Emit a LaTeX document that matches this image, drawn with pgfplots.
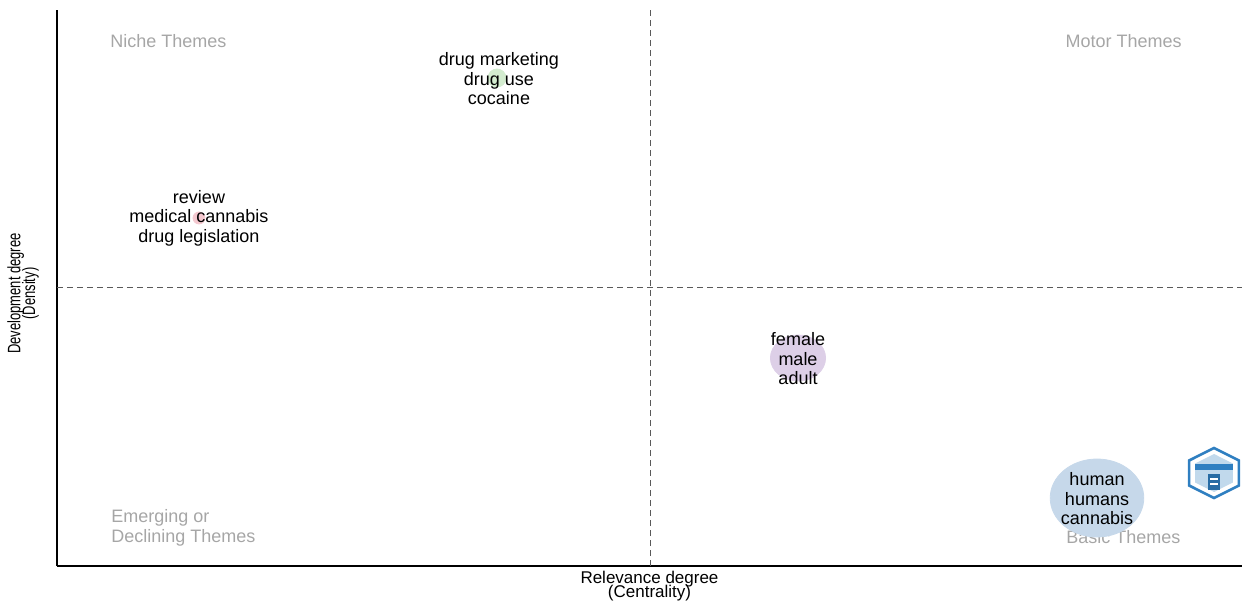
\documentclass[border=0pt]{standalone}
\usepackage{pgfplots}
\pgfplotsset{compat=1.18}
\usepackage{fontspec}
\setmainfont{Liberation Sans}
\usetikzlibrary{shapes.geometric}
\definecolor{cblue}{HTML}{C6D8EA}
\definecolor{cpurple}{HTML}{DDCFE7}
\definecolor{cgreen}{HTML}{D3ECCF}
\definecolor{cred}{HTML}{F4C8CF}
\definecolor{qgray}{HTML}{A6A6A6}
\definecolor{logoblue}{HTML}{2F7FC1}
\pgfplotsset{themetext/.style={nodes near coords={#1}, every node near coord/.append style={align=center, anchor=center, text=black, font=\fontsize{9}{9.75}\selectfont}}}
\begin{document}
\begin{tikzpicture}
\path[use as bounding box] (0,0) rectangle (621pt,300pt);
\begin{axis}[
  at={(28.5pt,17pt)}, anchor=south west,
  scale only axis, width=592.5pt, height=278pt,
  xmin=57, xmax=1242, ymin=34, ymax=590,
  axis lines=left, axis line style={-, black, line width=0.6pt},
  xtick=\empty, ytick=\empty,
  clip=false,
  xlabel={Relevance degree\\[-1.5pt](Centrality)},
  ylabel={\scalebox{0.72}[1]{\begin{tabular}{@{}c@{}}Development degree\\[-1.8pt](Density)\end{tabular}}},
  xlabel style={font=\fontsize{8.5}{8.5}\selectfont, align=center, at={(axis description cs:0.5,0)}, anchor=north, yshift=-2.3pt, inner sep=0pt},
  ylabel style={font=\fontsize{9}{9}\selectfont, at={(axis description cs:0,0.49)}, anchor=south, yshift=8pt, inner sep=0pt},
]
% dashed quadrant lines
\addplot[densely dashed, gray!70!black, line width=0.5pt] coordinates {(650,34) (650,590)};
\addplot[densely dashed, gray!70!black, line width=0.5pt] coordinates {(57,312) (1242,312)};
% bubbles
\addplot[only marks, mark=*, color=cblue, mark size=19.5pt, mark options={xscale=1.2, fill=cblue, draw=cblue}] coordinates {(1097,102)};
\addplot[only marks, mark=*, color=cpurple, mark size=11.5pt, mark options={xscale=1.2, fill=cpurple, draw=cpurple}] coordinates {(798,242)};
\addplot[only marks, mark=*, color=cgreen, mark size=4.5pt, mark options={fill=cgreen, draw=cgreen}] coordinates {(497,522)};
\addplot[only marks, mark=*, color=cred, mark size=3pt, mark options={fill=cred, draw=cred}] coordinates {(199,382)};
% theme labels
\addplot[draw=none, mark=none, themetext={drug marketing\\drug use\\cocaine}] coordinates {(499,521)};
\addplot[draw=none, mark=none, themetext={review\\medical cannabis\\drug legislation}] coordinates {(199,382)};
\addplot[draw=none, mark=none, themetext={female\\male\\adult}] coordinates {(798,241)};
\addplot[draw=none, mark=none, themetext={human\\humans\\cannabis}] coordinates {(1097,101)};
% quadrant labels
\node[anchor=west, inner sep=0pt, text=qgray, font=\fontsize{9}{9.75}\selectfont] at (axis cs:110,559) {Niche Themes};
\node[anchor=east, inner sep=0pt, text=qgray, font=\fontsize{9}{9.75}\selectfont] at (axis cs:1182,559) {Motor Themes};
\node[anchor=west, inner sep=0pt, text=qgray, align=left, font=\fontsize{9}{9.75}\selectfont] at (axis cs:111,72) {Emerging or\\Declining Themes};
\node[anchor=west, inner sep=0pt, text=qgray, font=\fontsize{9}{9.75}\selectfont] at (axis cs:1066,63) {Basic Themes};
% logo
\node[regular polygon, regular polygon sides=6, shape border rotate=90, draw=logoblue, line width=1.3pt, fill=white, minimum size=25pt, inner sep=0pt, xscale=1.15] at (axis cs:1214,127) {};
\node[regular polygon, regular polygon sides=6, shape border rotate=90, fill=logoblue!30, minimum size=19pt, inner sep=0pt, xscale=1.15] at (axis cs:1214,127) {};
\node[fill=logoblue, minimum width=19pt, minimum height=3pt, inner sep=0pt] at (axis cs:1214,133) {};
\node[fill=logoblue!85!black, minimum width=6pt, minimum height=8pt, inner sep=0pt] at (axis cs:1214,118) {};
\node[fill=white, minimum width=4pt, minimum height=1pt, inner sep=0pt] at (axis cs:1214,121) {};
\node[fill=white, minimum width=4pt, minimum height=1pt, inner sep=0pt] at (axis cs:1214,116) {};
\end{axis}
\end{tikzpicture}
\end{document}
